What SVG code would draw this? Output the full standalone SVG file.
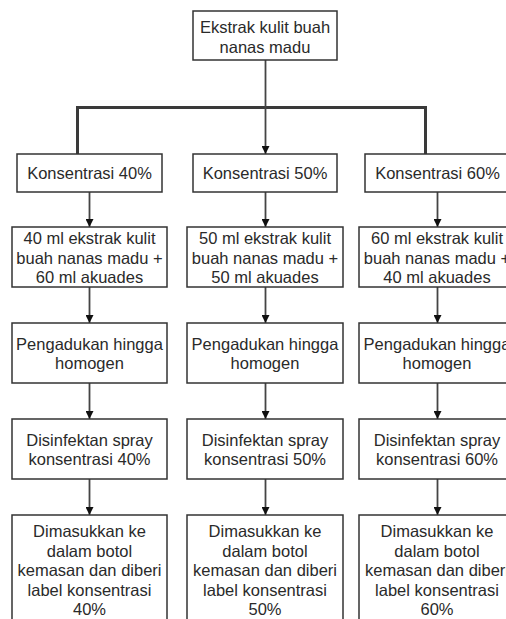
<svg xmlns="http://www.w3.org/2000/svg" width="506" height="619" viewBox="0 0 506 619">
<defs>
<style>
.box{fill:#ffffff;stroke:#333333;stroke-width:1.5}
.t{font-family:"Liberation Sans",Arial,Helvetica,sans-serif;font-size:16.5px;fill:#2a2a2a;text-anchor:middle}
.c{fill:none;stroke:#444444;stroke-width:1.8}
.thick{fill:none;stroke:#3a3a3a;stroke-width:3}
</style>
<marker id="arr" viewBox="0 0 10 10" refX="10" refY="5" markerWidth="8" markerHeight="8" markerUnits="userSpaceOnUse" orient="auto">
<path d="M0,0 L10,5 L0,10 Z" fill="#111111"/>
</marker>
</defs>
<rect width="506" height="619" fill="#ffffff"/>

<g id="connectors">
<path class="thick" d="M77.5,154 V107.5 H425.5 V154"/>
<path class="c" d="M265.5,60 V154" marker-end="url(#arr)"/>
<path class="c" d="M89.5,192 V227" marker-end="url(#arr)"/>
<path class="c" d="M265.5,192 V227" marker-end="url(#arr)"/>
<path class="c" d="M437.5,192 V227" marker-end="url(#arr)"/>
<path class="c" d="M89.5,287 V323" marker-end="url(#arr)"/>
<path class="c" d="M265.5,287 V323" marker-end="url(#arr)"/>
<path class="c" d="M437.5,287 V323" marker-end="url(#arr)"/>
<path class="c" d="M89.5,383 V419" marker-end="url(#arr)"/>
<path class="c" d="M265.5,383 V419" marker-end="url(#arr)"/>
<path class="c" d="M437.5,383 V419" marker-end="url(#arr)"/>
<path class="c" d="M89.5,479 V515" marker-end="url(#arr)"/>
<path class="c" d="M265.5,479 V515" marker-end="url(#arr)"/>
<path class="c" d="M437.5,479 V515" marker-end="url(#arr)"/>
</g>

<g id="n-ekstrak">
<rect class="box" x="193" y="11" width="144" height="49"/>
<text class="t" x="265" y="33">Ekstrak kulit buah</text>
<text class="t" x="265" y="53">nanas madu</text>
</g>

<g id="n-k40">
<rect class="box" x="17" y="154" width="145" height="38"/>
<text class="t" x="89.5" y="179">Konsentrasi 40%</text>
</g>
<g id="n-k50">
<rect class="box" x="193" y="154" width="144" height="38"/>
<text class="t" x="265" y="179">Konsentrasi 50%</text>
</g>
<g id="n-k60">
<rect class="box" x="365" y="154" width="145" height="38"/>
<text class="t" x="437.5" y="179">Konsentrasi 60%</text>
</g>

<g id="n-mix40">
<rect class="box" x="12" y="227" width="155" height="60"/>
<text class="t" x="89.5" y="244">40 ml ekstrak kulit</text>
<text class="t" x="89.5" y="263.5">buah nanas madu +</text>
<text class="t" x="89.5" y="283">60 ml akuades</text>
</g>
<g id="n-mix50">
<rect class="box" x="187" y="227" width="156" height="60"/>
<text class="t" x="265" y="244">50 ml ekstrak kulit</text>
<text class="t" x="265" y="263.5">buah nanas madu +</text>
<text class="t" x="265" y="283">50 ml akuades</text>
</g>
<g id="n-mix60">
<rect class="box" x="359" y="227" width="156" height="60"/>
<text class="t" x="437" y="244">60 ml ekstrak kulit</text>
<text class="t" x="437" y="263.5">buah nanas madu +</text>
<text class="t" x="437" y="283">40 ml akuades</text>
</g>

<g id="n-aduk40">
<rect class="box" x="12" y="323" width="155" height="60"/>
<text class="t" x="89.5" y="349.5">Pengadukan hingga</text>
<text class="t" x="89.5" y="369">homogen</text>
</g>
<g id="n-aduk50">
<rect class="box" x="187" y="323" width="156" height="60"/>
<text class="t" x="265" y="349.5">Pengadukan hingga</text>
<text class="t" x="265" y="369">homogen</text>
</g>
<g id="n-aduk60">
<rect class="box" x="359" y="323" width="156" height="60"/>
<text class="t" x="437" y="349.5">Pengadukan hingga</text>
<text class="t" x="437" y="369">homogen</text>
</g>

<g id="n-dis40">
<rect class="box" x="12" y="419" width="155" height="60"/>
<text class="t" x="89.5" y="445.5">Disinfektan spray</text>
<text class="t" x="89.5" y="465">konsentrasi 40%</text>
</g>
<g id="n-dis50">
<rect class="box" x="187" y="419" width="156" height="60"/>
<text class="t" x="265" y="445.5">Disinfektan spray</text>
<text class="t" x="265" y="465">konsentrasi 50%</text>
</g>
<g id="n-dis60">
<rect class="box" x="359" y="419" width="156" height="60"/>
<text class="t" x="437" y="445.5">Disinfektan spray</text>
<text class="t" x="437" y="465">konsentrasi 60%</text>
</g>

<g id="n-botol40">
<rect class="box" x="12" y="515" width="155" height="115"/>
<text class="t" x="89.5" y="537">Dimasukkan ke</text>
<text class="t" x="89.5" y="556.5">dalam botol</text>
<text class="t" x="89.5" y="576">kemasan dan diberi</text>
<text class="t" x="89.5" y="595.5">label konsentrasi</text>
<text class="t" x="89.5" y="615">40%</text>
</g>
<g id="n-botol50">
<rect class="box" x="187" y="515" width="156" height="115"/>
<text class="t" x="265" y="537">Dimasukkan ke</text>
<text class="t" x="265" y="556.5">dalam botol</text>
<text class="t" x="265" y="576">kemasan dan diberi</text>
<text class="t" x="265" y="595.5">label konsentrasi</text>
<text class="t" x="265" y="615">50%</text>
</g>
<g id="n-botol60">
<rect class="box" x="359" y="515" width="156" height="115"/>
<text class="t" x="437" y="537">Dimasukkan ke</text>
<text class="t" x="437" y="556.5">dalam botol</text>
<text class="t" x="437" y="576">kemasan dan diberi</text>
<text class="t" x="437" y="595.5">label konsentrasi</text>
<text class="t" x="437" y="615">60%</text>
</g>
</svg>
